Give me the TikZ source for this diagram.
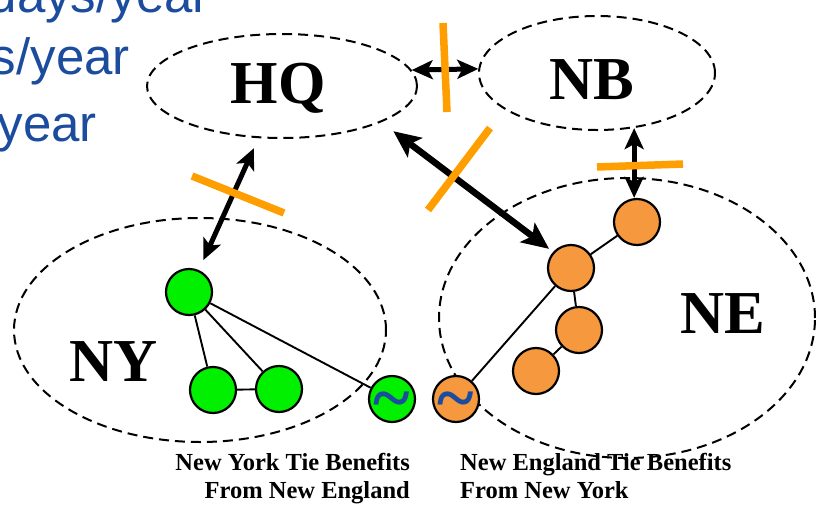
\documentclass[tikz,border=0pt]{standalone}
\usepackage{fontspec}
\setmainfont{Liberation Serif}
\newfontfamily\slidesans{Liberation Sans}
\usetikzlibrary{shapes.geometric,arrows.meta}

\definecolor{slideblue}{RGB}{28,76,158}
\definecolor{barorange}{RGB}{255,158,0}
\definecolor{nodeorange}{RGB}{245,152,62}
\definecolor{nodegreen}{RGB}{0,240,0}

\begin{document}
\begin{tikzpicture}[x=1pt,y=-1pt,
  region/.style={ellipse, draw, line width=2pt, dash pattern=on 10pt off 6pt, inner sep=0pt},
  area/.style={font=\fontsize{61}{61}\selectfont\bfseries},
  bus/.style={circle, draw, line width=2.2pt, minimum size=46pt, inner sep=0pt},
  gbus/.style={bus, fill=nodegreen},
  obus/.style={bus, fill=nodeorange},
  tiebus/.style={font=\fontsize{70}{70}\selectfont\bfseries, text=slideblue, inner sep=0pt},
  line/.style={line width=1.9pt},
  tie/.style={line width=5pt, {Stealth[length=21pt,width=19pt,inset=5pt]}-{Stealth[length=21pt,width=19pt,inset=5pt]}},
  bigtie/.style={line width=6.5pt, {Stealth[length=27pt,width=24pt,inset=6pt]}-{Stealth[length=27pt,width=24pt,inset=6pt]}},
  cut/.style={barorange, line width=7.5pt},
  slidetext/.style={font=\slidesans\fontsize{51}{51}\selectfont, text=slideblue, inner sep=0pt, anchor=base east},
  caption/.style={font=\fontsize{24.5}{28}\selectfont\bfseries, inner sep=0pt}
]
\useasboundingbox (0,0) rectangle (820,504);
\clip (0,0) rectangle (820,504);

% slide text running in from the left
\node[slidetext] (t1) at (210,12) {days/year};
\node[slidetext] (t2) at (130,74) {s/year};
\node[slidetext] (t3) at (97,141) {year};

% control areas
\node[region, minimum width=270pt, minimum height=104pt] (HQe) at (282,86) {};
\node[region, minimum width=236pt, minimum height=114pt] (NBe) at (597,73) {};
\node[region, minimum width=372pt, minimum height=224pt] (NYe) at (200,330) {};
\node[region, minimum width=376pt, minimum height=280pt] (NEe) at (627,318) {};

\node[area] (HQ) at (278,88) {HQ};
\node[area] (NB) at (592,80) {NB};
\node[area] (NY) at (114,362) {NY};
\node[area] (NE) at (723,314) {NE};

% buses
\coordinate (g1p) at (189,292);
\coordinate (g2p) at (213,390);
\coordinate (g3p) at (279,389);
\coordinate (gtp) at (392,399);
\coordinate (o1p) at (637,222);
\coordinate (o2p) at (571,268);
\coordinate (o3p) at (579,330);
\coordinate (o4p) at (536,371);
\coordinate (otp) at (456,399);

\node[gbus] (g1) at (g1p) {};
\node[gbus] (g2) at (g2p) {};
\node[gbus] (g3) at (g3p) {};
\node[gbus] (gt) at (gtp) {};
\node[obus] (o1) at (o1p) {};
\node[obus] (o2) at (o2p) {};
\node[obus] (o3) at (o3p) {};
\node[obus] (o4) at (o4p) {};
\node[obus] (ot) at (otp) {};

% lines inside each area
\draw[line] (g1) -- (g2);
\draw[line] (g1) -- (g3);
\draw[line] (g2) -- (g3);
\draw[line] (g1) -- (gt);
\draw[line] (o1) -- (o2);
\draw[line] (o2) -- (o3);
\draw[line] (o3) -- (o4);
\draw[line] (o2) -- (ot);

% tie buses marked with a tilde
\node[tiebus] (gtl) at ([yshift=-8pt]gt) {\raisebox{-8pt}{\~{}}};
\node[tiebus] (otl) at ([yshift=-8pt]ot) {\raisebox{-8pt}{\~{}}};

% interchange links
\draw[tie] (HQe.7.6) -- (NBe.178);
\draw[cut] (443,23) -- (447,112);
\draw[tie, shorten <=11pt, shorten >=11pt] (HQe) -- (g1);
\draw[bigtie, shorten <=15pt, shorten >=5pt] (HQe.-20) -- (o2.138);
\draw[tie] (NBe.-56) -- (NBe.-56 |- o1.north);
\draw[cut] (192,176) -- (284,213);
\draw[cut] (490,128) -- (428,210);
\draw[cut] (597,167) -- (683,164);

% captions
\node[caption, align=right, anchor=north east] (capny) at (410,453) {New York Tie Benefits\\From New England};
\node[caption, align=left, anchor=north west] (capne) at (460,453) {New England Tie Benefits\\From New York};
\end{tikzpicture}
\end{document}
